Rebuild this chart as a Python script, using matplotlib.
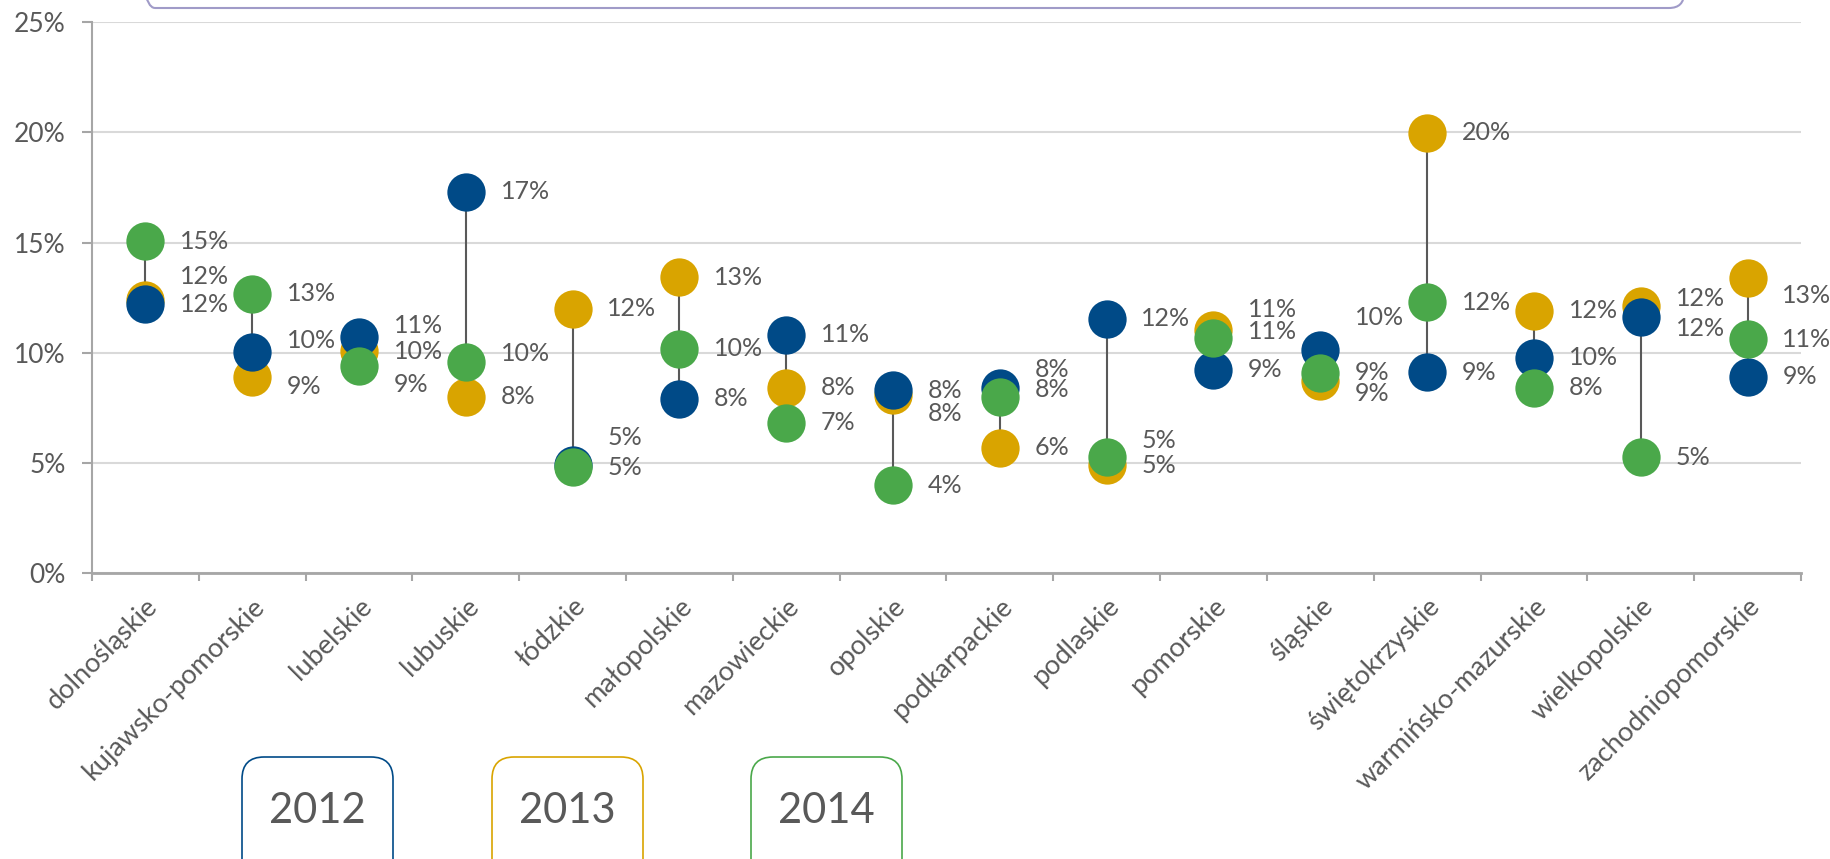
import matplotlib
matplotlib.use('Agg')
import matplotlib.pyplot as plt
from matplotlib.patches import FancyBboxPatch
import matplotlib.ticker as ticker

plt.rcParams['font.family'] = ['Lato', 'DejaVu Sans']

regions = ['dolnośląskie', 'kujawsko-pomorskie', 'lubelskie', 'lubuskie', 'łódzkie',
           'małopolskie', 'mazowieckie', 'opolskie', 'podkarpackie', 'podlaskie',
           'pomorskie', 'śląskie', 'świętokrzyskie', 'warmińsko-mazurskie',
           'wielkopolskie', 'zachodniopomorskie']
years = ['2012', '2013', '2014']
v2012 = [12.2, 10.02, 10.73, 17.3, 4.9, 7.92, 10.82, 8.3, 8.39, 11.55,
         9.22, 10.12, 9.11, 9.77, 11.6, 8.9]
v2013 = [12.38, 8.9, 10.07, 8.0, 12.0, 13.42, 8.42, 8.1, 5.69, 4.9,
         11.04, 8.73, 19.98, 11.91, 12.12, 13.4]
v2014 = [15.05, 12.67, 9.375, 9.6, 4.79, 10.17, 6.82, 3.99, 8.0, 5.26,
         10.68, 9.08, 12.29, 8.42, 5.26, 10.6]

COLORS = {'2012': '#004a87', '2013': '#d9a400', '2014': '#4aa84a'}
ZORD = {'2012': 4, '2013': 3, '2014': 5}
TXT = '#595959'

# data label nudges in pixels (up = positive), to keep labels apart
nudge = {
    ('2013', 0): 24, ('2012', 1): 12, ('2013', 1): -10,
    ('2012', 2): 11, ('2014', 2): -18, ('2014', 3): 8,
    ('2012', 4): 28, ('2013', 7): -19, ('2012', 8): 19, ('2014', 8): 7,
    ('2014', 9): 17, ('2013', 10): 20, ('2014', 10): 6,
    ('2012', 11): 33, ('2013', 11): -13, ('2013', 14): 8, ('2012', 14): -11,
    ('2013', 15): -18,
}

fig = plt.figure(figsize=(18.31, 8.59), dpi=100)
ax = fig.add_axes([0.0502, 0.333, 0.9334, 0.641])

x = list(range(len(regions)))
lo = [min(a, b, c) for a, b, c in zip(v2012, v2013, v2014)]
hi = [max(a, b, c) for a, b, c in zip(v2012, v2013, v2014)]
ax.vlines(x, lo, hi, color='#595959', lw=1.5, zorder=2)

for yr, vals in zip(years, [v2012, v2013, v2014]):
    ax.scatter(x, vals, s=760, color=COLORS[yr], zorder=ZORD[yr], linewidths=0)
    for i, v in enumerate(vals):
        dy = nudge.get((yr, i), 0) * 0.72
        ax.annotate(f'{v:.0f}%', (i, v), xytext=(25, dy), textcoords='offset points',
                    ha='left', va='center', fontsize=18, color=TXT, zorder=6)

ax.set_xlim(-0.5, len(regions) - 0.5)
ax.set_ylim(0, 25)
ax.yaxis.set_major_locator(ticker.MultipleLocator(5))
ax.yaxis.set_major_formatter(ticker.FuncFormatter(lambda v, _: f'{v:.0f}%'))
ax.grid(axis='y', color='#d9d9d9', lw=1.5, zorder=0)
ax.set_axisbelow(True)

ax.set_xticks([i - 0.5 for i in range(len(regions) + 1)])
ax.set_xticklabels([])
ax.set_xticks(x, minor=True)
ax.set_xticklabels(regions, minor=True, rotation=45, ha='right', va='top',
                   rotation_mode='anchor', fontsize=19.5, color=TXT)
ax.tick_params(axis='x', which='major', length=6, width=1.5, color='#a6a6a6', direction='out')
ax.tick_params(axis='x', which='minor', length=0, pad=15)
ax.tick_params(axis='y', length=7, width=1.5, color='#a6a6a6', pad=12,
               labelsize=19, labelcolor=TXT)

for s in ['top', 'right']:
    ax.spines[s].set_visible(False)
ax.spines['left'].set_color('#a6a6a6')
ax.spines['left'].set_linewidth(1.5)
ax.spines['bottom'].set_color('#a6a6a6')
ax.spines['bottom'].set_linewidth(2)

# title frame cut off at the top
fig.patches.append(FancyBboxPatch((1.40, 8.51), 15.44, 1.0,
                                  boxstyle='round,pad=0,rounding_size=0.15',
                                  transform=fig.dpi_scale_trans, fill=False,
                                  edgecolor='#a09bc8', lw=1.5))

# year legend boxes at the bottom
legend_x = [2.42, 4.92, 7.51]
for yr, lx in zip(years, legend_x):
    fig.patches.append(FancyBboxPatch((lx, -0.3), 1.51, 1.32,
                                      boxstyle='round,pad=0,rounding_size=0.22',
                                      transform=fig.dpi_scale_trans, fill=False,
                                      edgecolor=COLORS[yr], lw=1.2))
    fig.text(lx + 0.755, 0.48, yr, transform=fig.dpi_scale_trans,
             ha='center', va='center', fontsize=30, color=TXT)

fig.savefig('out.png', dpi=100)
